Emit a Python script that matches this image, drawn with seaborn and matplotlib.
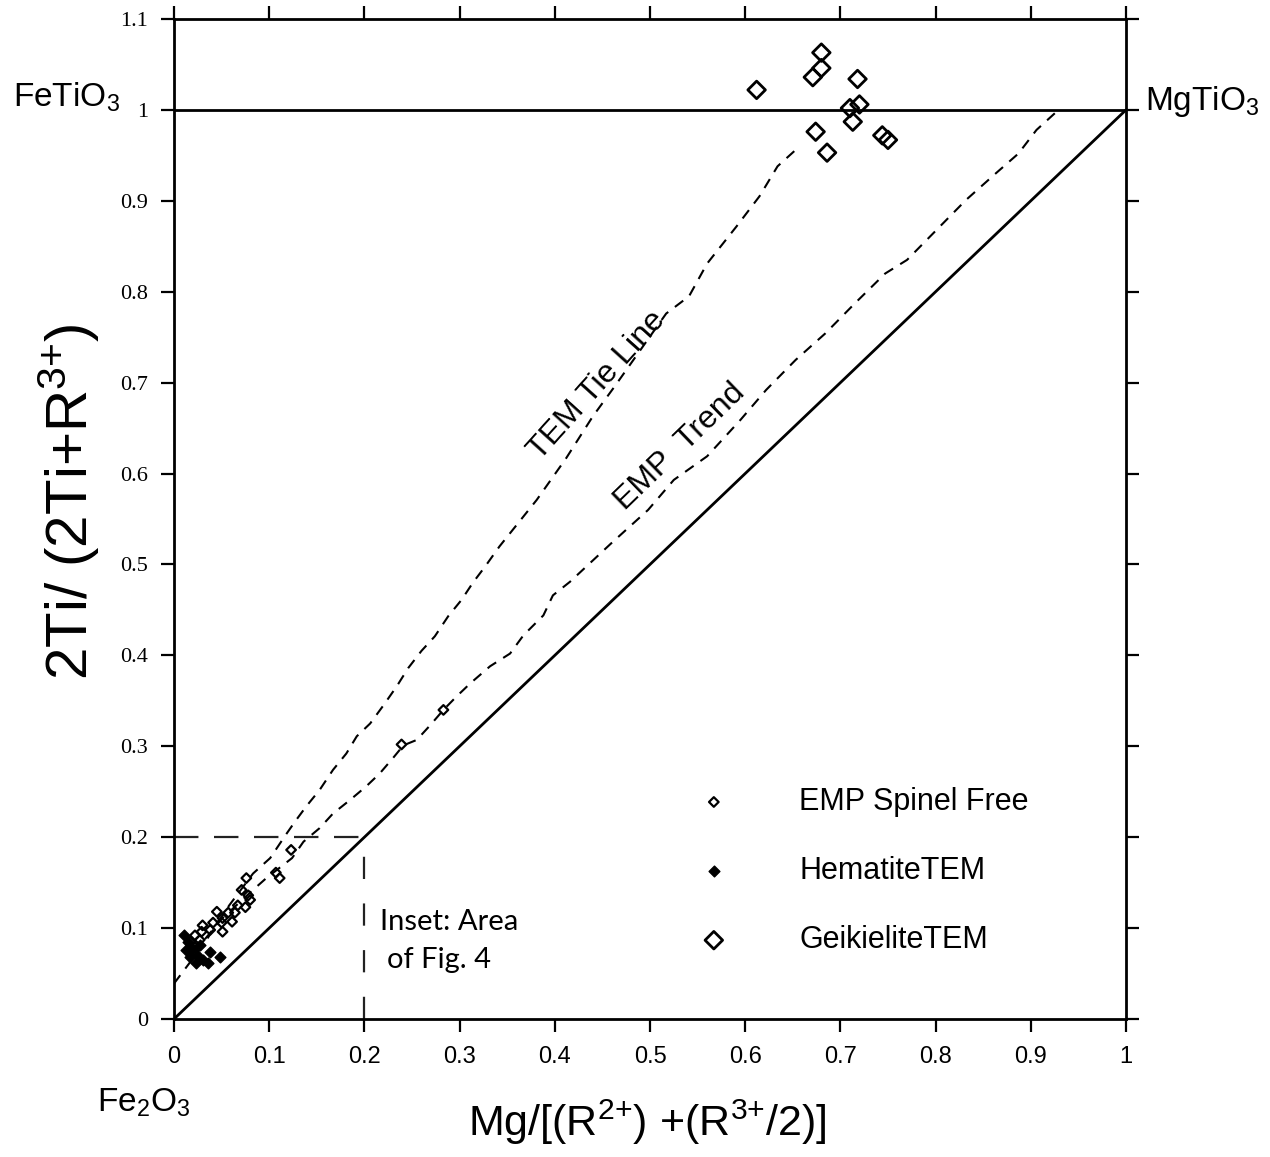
import matplotlib
matplotlib.use("Agg")
import matplotlib.pyplot as plt
import seaborn as sns
import pandas as pd

# ---- data -------------------------------------------------------------
emp_x = [0.123, 0.111, 0.107, 0.076, 0.071, 0.078, 0.080, 0.067, 0.075, 0.064,
         0.057, 0.045, 0.051, 0.061, 0.050, 0.051, 0.041, 0.030, 0.038, 0.029,
         0.022, 0.027, 0.017, 0.022, 0.239, 0.283]
emp_y = [0.186, 0.155, 0.161, 0.155, 0.142, 0.136, 0.131, 0.125, 0.123, 0.117,
         0.117, 0.118, 0.111, 0.107, 0.106, 0.096, 0.106, 0.103, 0.098, 0.096,
         0.092, 0.087, 0.085, 0.079, 0.302, 0.340]

hem_x = [0.011, 0.015, 0.013, 0.019, 0.017, 0.024, 0.023, 0.030, 0.036, 0.027,
         0.038, 0.048]
hem_y = [0.092, 0.085, 0.076, 0.078, 0.068, 0.070, 0.062, 0.065, 0.062, 0.081,
         0.074, 0.068]

geik_x = [0.612, 0.680, 0.680, 0.671, 0.718, 0.710, 0.720, 0.713, 0.674, 0.744,
          0.750, 0.686]
geik_y = [1.022, 1.063, 1.046, 1.036, 1.034, 1.002, 1.006, 0.987, 0.976, 0.972,
          0.967, 0.953]

tem_x = [0.000, 0.031, 0.058, 0.083, 0.101, 0.117, 0.127, 0.139, 0.153, 0.167,
         0.181, 0.192, 0.206, 0.220, 0.234, 0.246, 0.260, 0.274, 0.288, 0.302,
         0.314, 0.327, 0.342, 0.381, 0.412, 0.440, 0.463, 0.490, 0.517, 0.541,
         0.560, 0.591, 0.615, 0.634, 0.653]
tem_y = [0.039, 0.082, 0.125, 0.160, 0.177, 0.202, 0.217, 0.234, 0.252, 0.274,
         0.292, 0.311, 0.325, 0.345, 0.366, 0.386, 0.405, 0.421, 0.443, 0.461,
         0.480, 0.498, 0.520, 0.571, 0.617, 0.663, 0.696, 0.736, 0.776, 0.795,
         0.831, 0.872, 0.905, 0.938, 0.956]

trend_x = [0.020, 0.050, 0.083, 0.097, 0.124, 0.136, 0.153, 0.167, 0.185, 0.202,
           0.216, 0.230, 0.241, 0.255, 0.269, 0.283, 0.297, 0.311, 0.332, 0.353,
           0.367, 0.388, 0.398, 0.416, 0.459, 0.498, 0.525, 0.560, 0.595, 0.622,
           0.653, 0.684, 0.715, 0.747, 0.770, 0.801, 0.832, 0.863, 0.887, 0.906,
           0.927]
trend_y = [0.072, 0.110, 0.142, 0.155, 0.177, 0.195, 0.210, 0.226, 0.241, 0.256,
           0.270, 0.287, 0.301, 0.307, 0.323, 0.340, 0.355, 0.369, 0.388, 0.402,
           0.422, 0.444, 0.466, 0.481, 0.523, 0.560, 0.593, 0.619, 0.659, 0.692,
           0.725, 0.754, 0.787, 0.820, 0.835, 0.868, 0.901, 0.930, 0.952, 0.978,
           0.998]

x_ticks = [0, 0.1, 0.2, 0.3, 0.4, 0.5, 0.6, 0.7, 0.8, 0.9, 1]
x_tick_labels = ["0", "0.1", "0.2", "0.3", "0.4", "0.5", "0.6", "0.7", "0.8", "0.9", "1"]
y_ticks = [0, 0.1, 0.2, 0.3, 0.4, 0.5, 0.6, 0.7, 0.8, 0.9, 1, 1.1]
y_tick_labels = ["0", "0.1", "0.2", "0.3", "0.4", "0.5", "0.6", "0.7", "0.8", "0.9", "1", "1.1"]

series_labels = ["EMP Spinel Free", "HematiteTEM", "GeikieliteTEM"]

# ---- style ------------------------------------------------------------
sns.set_style("ticks")
plt.rcParams["font.family"] = ["Liberation Sans", "DejaVu Sans"]
plt.rcParams["mathtext.fontset"] = "custom"
plt.rcParams["mathtext.rm"] = "Liberation Sans"
plt.rcParams["mathtext.it"] = "Liberation Sans:italic"
plt.rcParams["mathtext.bf"] = "Liberation Sans:bold"
for key in ["text.color", "axes.labelcolor", "xtick.color", "ytick.color",
            "axes.edgecolor"]:
    plt.rcParams[key] = "black"

fig = plt.figure(figsize=(12.7, 11.57), dpi=100)
ax = fig.add_axes([174 / 1270, 1 - 1019 / 1157, 952 / 1270, 1000 / 1157])

# end-member frame lines
ax.plot([0, 1], [0, 1], color="black", lw=2.0, zorder=2)
ax.plot([0, 1], [1, 1], color="black", lw=2.0, zorder=2)

# outline of the inset region
ax.plot([0, 0.2], [0.2, 0.2], color="#222222", lw=1.6,
        linestyle=(0, (11, 7)), zorder=2)
ax.plot([0.2, 0.2], [0, 0.2], color="#222222", lw=1.6,
        linestyle=(0, (10, 11)), zorder=2)

# trend lines
tem_df = pd.DataFrame({"x": tem_x, "y": tem_y})
trend_df = pd.DataFrame({"x": trend_x, "y": trend_y})
sns.lineplot(data=tem_df, x="x", y="y", sort=False, estimator=None, ax=ax,
             color="black", lw=1.5, linestyle=(0, (5, 4)), zorder=3)
sns.lineplot(data=trend_df, x="x", y="y", sort=False, estimator=None, ax=ax,
             color="black", lw=1.5, linestyle=(0, (5, 4)), zorder=3)

# analyses
sns.scatterplot(x=emp_x, y=emp_y, ax=ax, marker="D", s=24, facecolor="none",
                edgecolor="black", linewidth=1.6, label=series_labels[0], zorder=5)
sns.scatterplot(x=hem_x, y=hem_y, ax=ax, marker="D", s=30, color="black",
                edgecolor="black", linewidth=1.0, label=series_labels[1], zorder=5)
sns.scatterplot(x=geik_x, y=geik_y, ax=ax, marker="D", s=80, facecolor="none",
                edgecolor="black", linewidth=2.0, label=series_labels[2], zorder=5)

ax.set_xlim(0, 1)
ax.set_ylim(0, 1.1)

# ticks on all four sides, pointing outward
ax.tick_params(axis="both", which="major", direction="out", length=9.5, width=1.6,
               color="black", labelcolor="black", top=True, right=True)
ax.tick_params(axis="x", pad=10, labelsize=17)
ax.tick_params(axis="y", pad=9)
ax.set_xticks(x_ticks)
ax.set_xticklabels(x_tick_labels, fontsize=17, family=["Liberation Sans"])
ax.set_yticks(y_ticks)
ax.set_yticklabels(y_tick_labels, fontsize=16, family=["Liberation Serif"])
for side in ["left", "right", "top", "bottom"]:
    ax.spines[side].set_linewidth(2.0)
    ax.spines[side].set_color("black")

# axis titles
ax.set_xlabel(r"Mg/[(R$^{2{+}}$) +(R$^{3{+}}$/2)]", fontsize=31, color="black")
ax.xaxis.set_label_coords(0.497, -0.079)
ax.set_ylabel(r"2Ti/ (2Ti+R$^{3{+}}$)", fontsize=42, color="black")
ax.yaxis.set_label_coords(-0.076, 0.517)

# end-member names
ax.text(-0.169, 1.004, r"FeTiO$_3$", fontsize=24, ha="left", va="baseline",
        clip_on=False)
ax.text(1.020, 1.000, r"MgTiO$_3$", fontsize=24, ha="left", va="baseline",
        clip_on=False)
ax.text(-0.081, -0.102, r"Fe$_2$O$_3$", fontsize=24, ha="left", va="baseline",
        clip_on=False)

# curve captions
ax.text(0.445, 0.697, "TEM Tie Line", fontsize=23, rotation=48,
        ha="center", va="center", rotation_mode="anchor")
ax.text(0.531, 0.630, "EMP  Trend", fontsize=23, rotation=44,
        ha="center", va="center", rotation_mode="anchor")

# inset note
ax.text(0.216, 0.098, "Inset: Area", fontsize=21, family=["Lato", "DejaVu Sans"],
        ha="left", va="baseline")
ax.text(0.224, 0.056, "of Fig. 4", fontsize=21, family=["Lato", "DejaVu Sans"],
        ha="left", va="baseline")

ax.legend(loc="upper left", bbox_to_anchor=(0.551, 0.232), frameon=False,
          fontsize=22, handlelength=1.0, handletextpad=2.3, labelspacing=1.28,
          borderaxespad=0, borderpad=0, scatterpoints=1)

fig.savefig("out.png", dpi=100)
